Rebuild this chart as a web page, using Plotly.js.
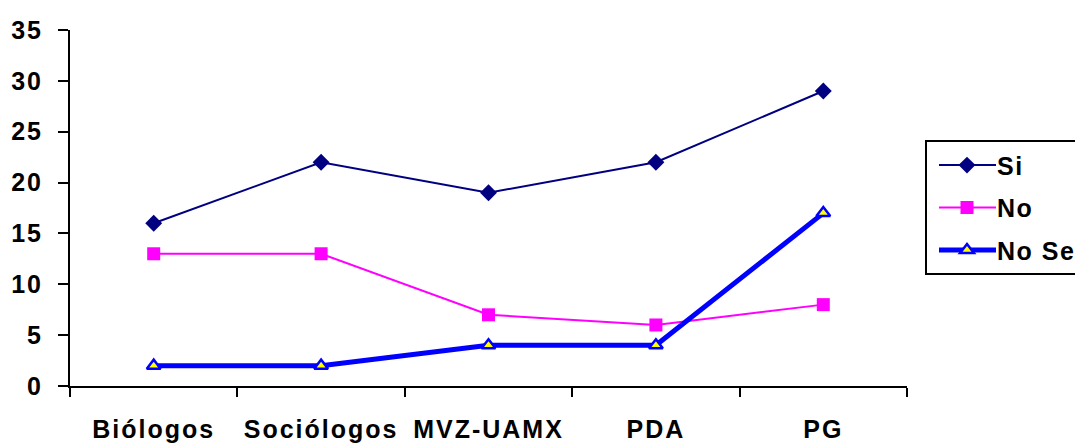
<!DOCTYPE html>
<html>
<head>
<meta charset="utf-8">
<script src="https://cdn.plot.ly/plotly-3.0.1.min.js"></script>
<style>
  html, body { margin: 0; padding: 0; background: #fff; }
  #chart { width: 1075px; height: 443px; }
  /* Slightly widened lettering for the bold axis and legend labels */
  .xtick text { letter-spacing: 2px; }
  .ytick text { letter-spacing: 2px; }
  .legendtext { letter-spacing: 1.5px; }
</style>
</head>
<body>
<div id="chart"></div>
<script>
// Categories along the x axis
const categories = ['Biólogos', 'Sociólogos', 'MVZ-UAMX', 'PDA', 'PG'];

// Responses per group
const siValues = [16, 22, 19, 22, 29];
const noValues = [13, 13, 7, 6, 8];
const noSeValues = [2, 2, 4, 4, 17];

// Series names
const seriesNames = ['Si', 'No', 'No Se'];

const font = 'Liberation Sans, Arial, sans-serif';

const traces = [
  {
    x: categories, y: siValues, name: seriesNames[0], type: 'scatter', mode: 'lines+markers',
    line: { color: '#000080', width: 2 },
    marker: { symbol: 'diamond', size: 13, color: '#000080' },
    legendgroup: 'a'
  },
  {
    x: categories, y: noValues, name: seriesNames[1], type: 'scatter', mode: 'lines+markers',
    line: { color: '#FF00FF', width: 2 },
    marker: { symbol: 'square', size: 13, color: '#FF00FF' },
    legendgroup: 'b'
  },
  {
    x: categories, y: noSeValues, name: seriesNames[2], type: 'scatter', mode: 'lines+markers',
    line: { color: '#0000FF', width: 5 },
    marker: { symbol: 'triangle-up', size: 12, color: '#FFFF00', line: { color: '#0000FF', width: 2.5 } },
    legendgroup: 'c'
  }
];

const layout = {
  width: 1075, height: 443,
  margin: { l: 70, r: 168, t: 30, b: 57, autoexpand: false },
  paper_bgcolor: '#fff', plot_bgcolor: '#fff',
  font: { family: font, size: 25, color: '#000', weight: 'bold' },
  showlegend: true,
  legend: {
    x: 1.0215, y: 0.69, xanchor: 'left', yanchor: 'top',
    bgcolor: '#fff', bordercolor: '#000', borderwidth: 2,
    font: { family: font, size: 25, color: '#000', weight: 'bold' },
    tracegroupgap: 7, traceorder: 'grouped', itemwidth: 60
  },
  xaxis: {
    type: 'category', range: [-0.5, 4.5],
    showline: true, linecolor: '#000', linewidth: 2,
    showgrid: false, zeroline: false,
    tickson: 'boundaries', ticks: 'outside', ticklen: 9, tickwidth: 2, tickcolor: '#000',
    tickfont: { family: font, size: 25, color: '#000', weight: 'bold' },
    ticklabelstandoff: 20
  },
  yaxis: {
    range: [0, 35], dtick: 5, tick0: 0,
    showline: true, linecolor: '#000', linewidth: 2,
    showgrid: false, zeroline: false,
    ticks: 'outside', ticklen: 10, tickwidth: 2, tickcolor: '#000',
    tickfont: { family: font, size: 25, color: '#000', weight: 'bold' },
    ticklabelstandoff: 10
  }
};

Plotly.newPlot('chart', traces, layout, { staticPlot: true, displayModeBar: false }).then(function (gd) {
  // Longer legend sample lines with the marker centred on them
  gd.querySelectorAll('.legend .legendlines path').forEach(function (p) {
    p.setAttribute('d', 'M12,0h57');
  });
  gd.querySelectorAll('.legend .legendpoints path').forEach(function (p) {
    p.setAttribute('transform', 'translate(40,0)');
  });
});
</script>
</body>
</html>
